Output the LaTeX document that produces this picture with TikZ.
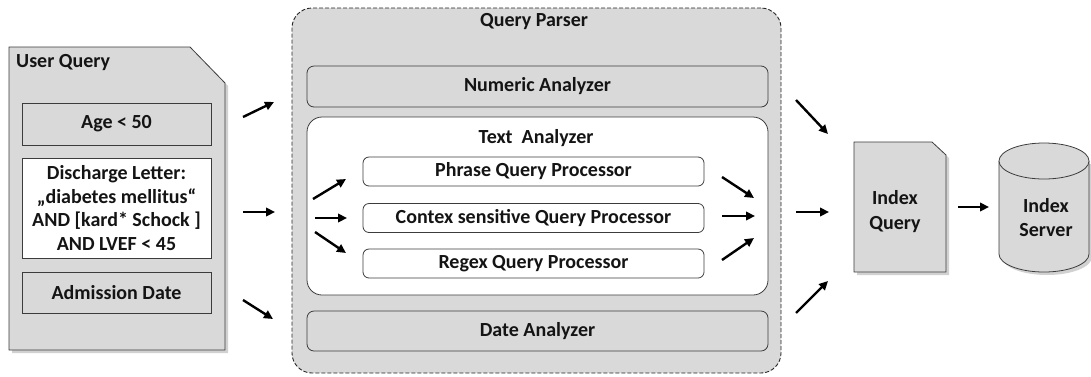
\documentclass[tikz,border=0pt]{standalone}
\usepackage{fontspec}
\setmainfont{Carlito}
\usetikzlibrary{arrows.meta,calc}
\definecolor{panel}{HTML}{D9D9D9}
\definecolor{edge}{HTML}{3C3C3C}
\definecolor{ink}{HTML}{141414}
\tikzset{
  lbl/.style={text=ink, inner sep=0pt, align=center},
  box/.style={draw=edge, line width=0.8pt, fill=panel, inner sep=0pt, text=ink, align=center},
  roundbox/.style={box, rounded corners=7pt},
  procbox/.style={draw=edge, line width=0.8pt, fill=white, rounded corners=6pt, inner sep=0pt, text=ink,
                  minimum width=341pt, minimum height=29pt},
  flow/.style={line width=2.4pt, draw=black, -{Triangle[length=9pt,width=8.5pt]}},
  docshape/.style={fill=panel, draw=edge, line width=0.8pt},
  shade/.style={fill=black, opacity=0.18},
}
\begin{document}
\begin{tikzpicture}[x=1pt, y=-1pt, font=\bfseries\fontsize{20}{24}\selectfont]
\useasboundingbox (0,0) rectangle (1091,376);

% ---------- User Query document ----------
\fill[shade] (12,50) -- (193,50) -- (228,86) -- (228,353) -- (12,353) -- cycle;
\draw[docshape] (9,47) -- (190,47) -- (225,83) -- (225,350) -- (9,350) -- cycle;
\node[lbl, anchor=base west] (uqtitle) at (16,67) {User Query};
\node[box, minimum width=189pt, minimum height=42pt] (age) at (116.5,124) {Age < 50};
\node[box, fill=white, minimum width=189pt, minimum height=100pt, font=\bfseries\fontsize{20}{23.5}\selectfont]
  (letter) at (116.5,208) {Discharge Letter:\\„diabetes mellitus“\\AND [kard* Schock ]\\AND LVEF < 45};
\node[box, minimum width=189pt, minimum height=41pt] (adate) at (116.5,292.5) {Admission Date};

% ---------- Query Parser ----------
\node[draw=black!85, line width=0.9pt, dash pattern=on 4pt off 2pt, fill=panel, rounded corners=20pt,
      minimum width=489pt, minimum height=365pt, inner sep=0pt] (parser) at (536.5,190.5) {};
\node[lbl] (parsertitle) at (534,22) {Query Parser};
\node[roundbox, minimum width=461pt, minimum height=41pt] (numeric) at (537.5,86.5) {Numeric Analyzer};
\node[draw=edge, line width=0.8pt, fill=white, rounded corners=15pt, inner sep=0pt,
      minimum width=461pt, minimum height=178pt] (textan) at (537.5,206) {};
\node[lbl] (textantitle) at (536,138) {Text\ \ Analyzer};
\node[procbox] (phrase) at (533.5,171.5) {Phrase Query Processor};
\node[procbox] (contex) at (533.5,218) {Contex sensitive Query Processor};
\node[procbox] (regex) at (533.5,263.5) {Regex Query Processor};
\node[roundbox, minimum width=461pt, minimum height=40pt] (datean) at (537.5,331) {Date Analyzer};

% ---------- Index Query document ----------
\fill[shade] (857,145) -- (935,145) -- (949,158) -- (949,275) -- (857,275) -- cycle;
\draw[docshape] (854,142) -- (932,142) -- (946,155) -- (946,272) -- (854,272) -- cycle;
\node[lbl, font=\bfseries\fontsize{20}{25}\selectfont] (indexquery) at (895,212) {Index\\Query};

% ---------- Index Server cylinder ----------
\fill[shade] (1002,164) -- (1002,257) arc[start angle=180, end angle=360, x radius=45pt, y radius=18pt]
  -- (1092,164) -- cycle;
\draw[docshape] (999,161) -- (999,254) arc[start angle=180, end angle=360, x radius=45pt, y radius=18pt]
  -- (1089,161);
\draw[docshape] (1044,161) ellipse[x radius=45pt, y radius=18pt];
\node[lbl, font=\bfseries\fontsize{20}{24}\selectfont] (server) at (1046,218) {Index\\Server};

% ---------- arrow end points ----------
\coordinate (a1s) at (243,117); \coordinate (a1e) at (274,102);
\coordinate (a2s) at (243,212); \coordinate (a2e) at (275,212);
\coordinate (a3s) at (243,300); \coordinate (a3e) at (273,319);
\coordinate (b1s) at (313,199); \coordinate (b1e) at (346,179);
\coordinate (b2s) at (315,218); \coordinate (b2e) at (347,218);
\coordinate (b3s) at (315,232); \coordinate (b3e) at (346,253);
\coordinate (c1s) at (722,177); \coordinate (c1e) at (754,198);
\coordinate (c2s) at (722,216); \coordinate (c2e) at (755,216);
\coordinate (c3s) at (722,260); \coordinate (c3e) at (754,238);
\coordinate (d1s) at (796,100); \coordinate (d1e) at (828,134);
\coordinate (d2s) at (796,212); \coordinate (d2e) at (829,212);
\coordinate (d3s) at (796,313); \coordinate (d3e) at (828,281);
\coordinate (e1s) at (958,207); \coordinate (e1e) at (989,207);

\foreach \a in {a1,a2,a3,b1,b2,b3,c1,c2,c3,d1,d2,d3,e1}
  \draw[flow] (\a s) -- (\a e);
\end{tikzpicture}
\end{document}
